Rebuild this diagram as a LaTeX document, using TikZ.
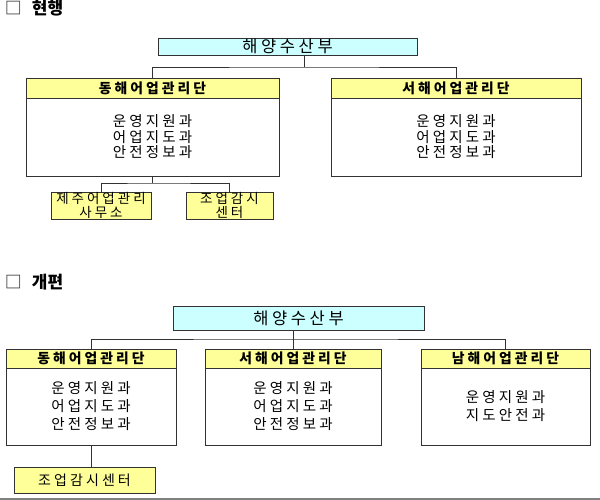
\documentclass[tikz,border=0pt]{standalone}
\usepackage{fontspec}
\newfontfamily\krfont[LetterSpace=22]{Noto Sans CJK KR}
\newfontfamily\krtitle{Noto Sans CJK KR}
\usetikzlibrary{positioning}
\definecolor{skyfill}{RGB}{204,255,255}
\definecolor{bandfill}{RGB}{255,255,153}
\definecolor{boxline}{RGB}{50,50,50}
\tikzset{
  every node/.style={inner sep=0pt, outer sep=0pt},
  ministry/.style={draw=boxline, line width=0.9pt, fill=skyfill,
    font=\krfont\fontsize{16.5}{18}\selectfont},
  headbox/.style={draw=boxline, line width=0.9pt, fill=bandfill, minimum height=20pt,
    font=\krfont\bfseries\fontsize{13.8}{15}\selectfont},
  bodybox/.style={draw=boxline, line width=0.9pt, fill=white, align=center,
    font=\krfont\fontsize{14.5}{15.5}\selectfont},
  subbox/.style={draw=boxline, line width=0.9pt, fill=bandfill, align=center,
    font=\krfont\fontsize{13.5}{13.5}\selectfont},
  link/.style={draw=boxline, line width=0.9pt},
  title/.style={anchor=west, font=\krtitle\bfseries\fontsize{17}{19}\selectfont}
}
\begin{document}
\begin{tikzpicture}[x=1pt,y=-1pt]
  \useasboundingbox (0,0) rectangle (600,500);
  % current
  \node[title] (t1) at (5,8) {{\color{darkgray}□}\hspace{10pt}현행};
  \node[ministry, minimum width=259pt, minimum height=17pt] (min1) at (287.5,46.5) {해양수산부};
  \node[headbox, minimum width=253pt] (e1head) at (152.5,88) {동해어업관리단};
  \node[bodybox, minimum width=253pt, minimum height=78pt, below=0pt of e1head] (e1) {운영지원과\\어업지도과\\안전정보과};
  \node[headbox, minimum width=250pt] (w1head) at (456,88) {서해어업관리단};
  \node[bodybox, minimum width=250pt, minimum height=78pt, below=0pt of w1head] (w1) {운영지원과\\어업지도과\\안전정보과};
  \node[subbox, minimum width=100pt, minimum height=27pt] (jeju1) at (101,205.5) {제주어업관리\\사무소};
  \node[subbox, minimum width=87pt, minimum height=27pt] (watch1) at (229.5,205.5) {조업감시\\센터};

  \coordinate (j1) at (304,67);
  \draw[link] (min1.south -| j1) -- (j1);
  \draw[link] (e1head.north) |- (j1) -| (w1head.north);
  \draw[link] (e1.south) -- ++(0,7) coordinate (j2);
  \draw[link] (jeju1.north) |- (j2) -| (watch1.north);

  % reorganised
  \node[title] (t2) at (5,282) {{\color{darkgray}□}\hspace{10pt}개편};
  \node[ministry, minimum width=251pt, minimum height=24pt] (min2) at (298.5,318) {해양수산부};
  \node[headbox, minimum width=170pt, minimum height=19pt] (e2head) at (91,358.5) {동해어업관리단};
  \node[bodybox, minimum width=170pt, minimum height=77pt, below=0pt of e2head,
    font=\krfont\fontsize{14.5}{18}\selectfont] (e2) {운영지원과\\어업지도과\\안전정보과};
  \node[headbox, minimum width=176pt, minimum height=19pt] (w2head) at (293,358.5) {서해어업관리단};
  \node[bodybox, minimum width=176pt, minimum height=77pt, below=0pt of w2head,
    font=\krfont\fontsize{14.5}{18}\selectfont] (w2) {운영지원과\\어업지도과\\안전정보과};
  \node[headbox, minimum width=169pt, minimum height=19pt] (s2head) at (505.5,358.5) {남해어업관리단};
  \node[bodybox, minimum width=169pt, minimum height=77pt, below=0pt of s2head,
    font=\krfont\fontsize{14.5}{18}\selectfont] (s2) {운영지원과\\지도안전과};
  \node[subbox, minimum width=141pt, minimum height=26pt,
    font=\krfont\fontsize{14}{15}\selectfont] (watch2) at (84.5,480) {조업감시센터};

  \coordinate (j3) at (293,339);
  \draw[link] (min2.south -| w2head.north) -- (w2head.north);
  \draw[link] (e2head.north) |- (j3) -| (s2head.north);
  \draw[link] (e2.south) -- (e2.south |- watch2.north);

  \draw[gray, line width=1.5pt] (0,499) -- (600,499);
\end{tikzpicture}
\end{document}
